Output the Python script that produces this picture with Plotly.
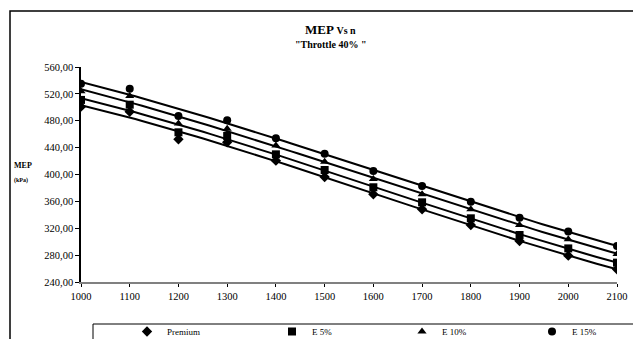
import numpy as np
import plotly.graph_objects as go

rpm = [1000, 1100, 1200, 1300, 1400, 1500, 1600, 1700, 1800, 1900, 2000, 2100]
premium = [501, 493.5, 452.4, 448, 420.6, 396.3, 370.5, 348.2, 324.9, 301, 279.2, 258.9]
e5 = [511, 503.9, 462.8, 457.3, 430, 406.7, 381, 358.6, 334.8, 310, 290, 268.8]
e10 = [524, 516.8, 476, 468.2, 443, 419, 393.3, 370.5, 348.2, 324.9, 303.6, 281.7]
e15 = [535, 527.8, 487, 480.6, 453.8, 431, 405.2, 382.9, 359.6, 335.8, 315, 293.6]

series_names = ["Premium", "E 5%", "E 10%", "E 15%"]
series_values = [premium, e5, e10, e15]
symbols = ["diamond", "square", "triangle-up", "circle"]
sizes = [8, 8, 8, 8]

y_ticks = [240, 280, 320, 360, 400, 440, 480, 520, 560]
x_ticks = rpm

FONT = "Liberation Serif"

fig = go.Figure()

# polynomial trendlines (3rd order, as in the original spreadsheet chart)
x_arr = np.array(rpm, dtype=float)
xc = (x_arr - 1550.0) / 550.0
for vals in series_values:
    coef = np.polyfit(xc, np.array(vals), 3)
    xs = np.linspace(rpm[0], rpm[-1], 80)
    fig.add_trace(go.Scatter(x=xs, y=np.polyval(coef, (xs - 1550.0) / 550.0), mode="lines",
                             line=dict(color="black", width=2),
                             showlegend=False, hoverinfo="skip"))

legend_ids = ["legend", "legend2", "legend3", "legend4"]
for name, vals, sym, sz, lid in zip(series_names, series_values, symbols, sizes, legend_ids):
    fig.add_trace(go.Scatter(x=rpm, y=vals, mode="markers", name=name, legend=lid,
                             marker=dict(symbol=sym, size=sz, color="black")))

L, R, T, B = 81, 16, 67, 57
W, H = 633, 339
pw, ph = W - L - R, H - T - B

def px(x):
    return (x - L) / pw

def py(y):
    return (H - B - y) / ph

legend_left = [127, 272, 402, 532]

def legend_style(xpix):
    return dict(orientation="h", x=px(xpix), y=py(317), xanchor="left", yanchor="top",
                itemwidth=30, font=dict(family=FONT, size=9),
                bgcolor="rgba(0,0,0,0)", itemsizing="trace")

fig.update_layout(
    width=W, height=H,
    margin=dict(l=L, r=R, t=T, b=B, autoexpand=False),
    paper_bgcolor="white", plot_bgcolor="white",
    separators=",.",
    font=dict(family=FONT, size=10, color="black"),
    showlegend=True,
    legend=legend_style(legend_left[0]),
    legend2=legend_style(legend_left[1]),
    legend3=legend_style(legend_left[2]),
    legend4=legend_style(legend_left[3]),
    xaxis=dict(range=[1000, 2100], tickvals=x_ticks, showgrid=False, zeroline=False,
               showline=True, linecolor="#808080", linewidth=2,
               ticks="outside", ticklen=3, tickcolor="black",
               tickfont=dict(family=FONT, size=10.5)),
    yaxis=dict(range=[240, 560], tickvals=y_ticks, tickformat=".2f",
               showgrid=False, zeroline=False,
               showline=True, linecolor="black", linewidth=1.5,
               ticks="outside", ticklen=4, tickcolor="black",
               tickfont=dict(family=FONT, size=10.5)),
)

fig.add_annotation(x=px(330), y=py(29), xref="paper", yref="paper", showarrow=False,
                   xanchor="center", yanchor="middle",
                   text="<b>MEP <span style='font-size:10px'>Vs n</span></b>",
                   font=dict(family=FONT, size=13))
fig.add_annotation(x=px(330), y=py(44), xref="paper", yref="paper", showarrow=False,
                   xanchor="center", yanchor="middle",
                   text="<b>\"Throttle 40% \"</b>", font=dict(family=FONT, size=10))
fig.add_annotation(x=px(12), y=py(165), xref="paper", yref="paper", showarrow=False,
                   xanchor="left", yanchor="middle", text="<b>MEP</b>",
                   font=dict(family=FONT, size=8))
fig.add_annotation(x=px(12), y=py(180), xref="paper", yref="paper", showarrow=False,
                   xanchor="left", yanchor="middle", text="<b>(kPa)</b>",
                   font=dict(family=FONT, size=6))

# outer chart border and legend box
fig.add_shape(type="rect", xref="paper", yref="paper",
              x0=px(10), x1=px(640), y0=py(345), y1=py(11),
              line=dict(color="black", width=1.5), fillcolor="rgba(0,0,0,0)")
fig.add_shape(type="rect", xref="paper", yref="paper",
              x0=px(93), x1=px(640), y0=py(345), y1=py(324),
              line=dict(color="black", width=1), fillcolor="rgba(0,0,0,0)")

fig.write_html("out.html", config={"displayModeBar": False},
               post_script="document.body.style.margin='0';document.body.style.overflow='hidden';")
